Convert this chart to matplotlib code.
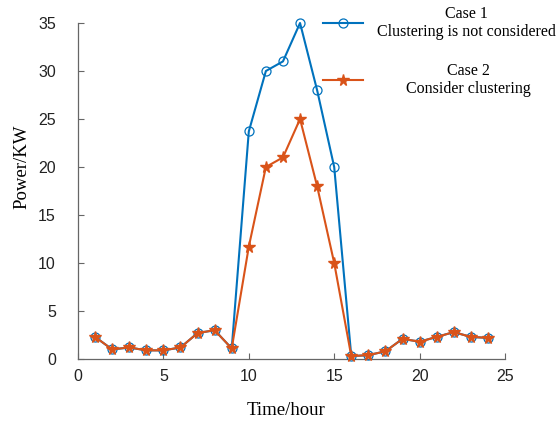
import matplotlib
matplotlib.use("Agg")
import matplotlib.pyplot as plt

hours = list(range(1, 25))
case1 = [2.3, 1.0, 1.2, 0.9, 0.9, 1.2, 2.7, 3.0, 1.1, 23.7, 30.0, 31.0, 35.0, 28.0, 20.0,
         0.3, 0.4, 0.8, 2.1, 1.8, 2.3, 2.8, 2.3, 2.2]
case2 = [2.3, 1.0, 1.2, 0.9, 0.9, 1.2, 2.7, 3.0, 1.1, 11.7, 20.0, 21.0, 25.0, 18.0, 10.0,
         0.3, 0.4, 0.8, 2.1, 1.8, 2.3, 2.8, 2.3, 2.2]
labels = ["Case 1\nClustering is not considered", "Case 2\nConsider clustering"]
xticks = [0, 5, 10, 15, 20, 25]
yticks = [0, 5, 10, 15, 20, 25, 30, 35]

W, H = 558, 421
fig = plt.figure(figsize=(W / 100, H / 100), dpi=100)
ax = fig.add_axes([78 / W, 1 - 359 / H, 427 / W, 336 / H])

blue = "#0072BD"
orange = "#D95319"
l1, = ax.plot(hours, case1, color=blue, lw=1.5, marker="o", ms=6.5, mfc="none", mec=blue,
              mew=0.9, clip_on=False, zorder=3)
l2, = ax.plot(hours, case2, color=orange, lw=1.5, marker="*", ms=8.5, mfc=orange, mec=orange,
              clip_on=False, zorder=4)

ax.set_xlim(0, 25)
ax.set_ylim(0, 35)
ax.set_xticks(xticks)
ax.set_yticks(yticks)
for s in ["top", "right"]:
    ax.spines[s].set_visible(False)
for s in ["left", "bottom"]:
    ax.spines[s].set_color("#666666")
    ax.spines[s].set_linewidth(0.9)
ax.tick_params(direction="in", length=4, color="#666666", labelsize=11.5)
ax.tick_params(axis="x", pad=7)
ax.tick_params(axis="y", pad=16)
for t in ax.get_xticklabels() + ax.get_yticklabels():
    t.set_family("Liberation Sans")
    t.set_color("#222222")

ax.set_xlabel("Time/hour", family="Liberation Serif", fontsize=13.5)
ax.set_ylabel("Power/KW", family="Liberation Serif", fontsize=13.5)
ax.xaxis.set_label_coords(0.487, -0.128)
ax.yaxis.set_label_coords(-0.1124, 0.571)

# legend handles (labels drawn as centred text beside them)
leg = fig.legend([l1, l2], [" ", " "], loc="upper left",
                 bbox_to_anchor=(317 / W, 1 - 10 / H), frameon=False,
                 prop={"family": "Liberation Serif", "size": 11.5},
                 handlelength=2.5, labelspacing=2.6, handletextpad=0.0,
                 borderaxespad=0.0)
fig.text(466 / W, 1 - 23 / H, labels[0], ha="center", va="center", ma="center",
         family="Liberation Serif", fontsize=11.5, linespacing=1.15)
fig.text(468 / W, 1 - 80 / H, labels[1], ha="center", va="center", ma="center",
         family="Liberation Serif", fontsize=11.5, linespacing=1.15)

fig.savefig("out.png", dpi=100)
